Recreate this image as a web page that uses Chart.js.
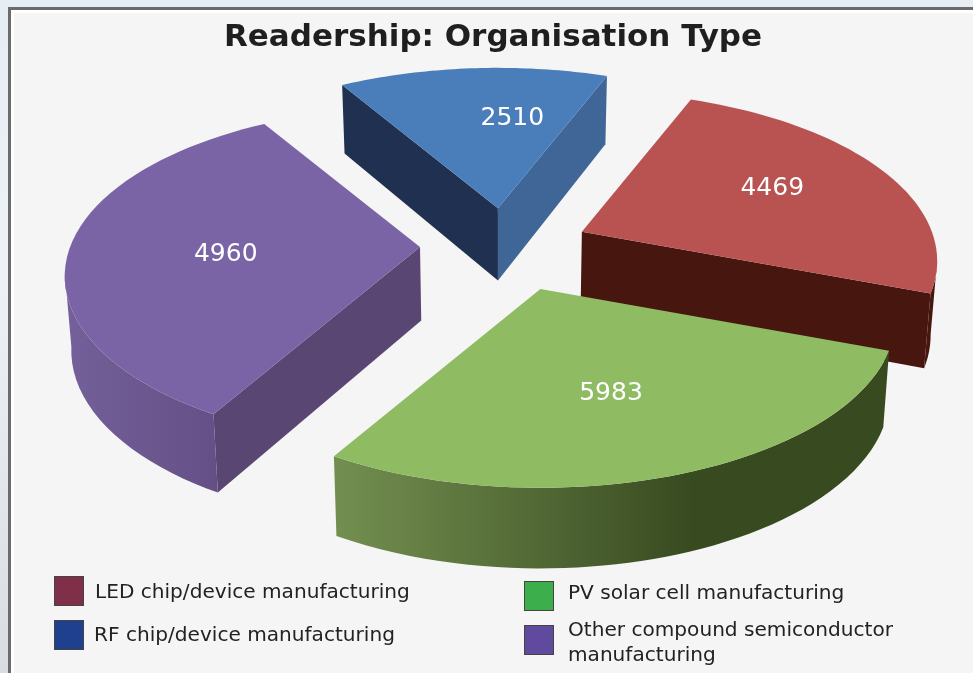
<!DOCTYPE html>
<html>
<head>
<meta charset="utf-8">
<title>Readership: Organisation Type</title>
<script src="https://cdn.jsdelivr.net/npm/chart.js@4"></script>
<style>
  html, body { margin: 0; padding: 0; width: 973px; height: 673px; overflow: hidden; }
  body { background: linear-gradient(180deg, #e6edf3 0%, #eef2f6 40%, #d9dde2 100%); position: relative; font-family: "DejaVu Sans", sans-serif; }
  #frame { position: absolute; left: 8px; top: 7px; width: 965px; height: 666px; box-sizing: border-box;
           border-left: 3px solid #6b6b6b; border-top: 3px solid #6b6b6b; background: #fff; }
  #inner { position: absolute; left: 14px; top: 13px; width: 959px; height: 660px; background: #f5f5f5; }
  #myChart { position: absolute; left: 0; top: 0; }
  .sw { position: absolute; width: 30px; height: 30px; box-sizing: border-box; border: 1px solid #444; }
  .lb { position: absolute; font-size: 20.1px; line-height: 25px; color: #222; white-space: nowrap; }
</style>
</head>
<body>
<div id="frame"></div>
<div id="inner"></div>
<canvas id="myChart" width="973" height="673"></canvas>

<div class="sw" style="left:54px;top:576px;background:#7f2f47"></div>
<div class="lb" style="left:95px;top:579px">LED chip/device manufacturing</div>
<div class="sw" style="left:54px;top:620px;background:#1f3f8f"></div>
<div class="lb" style="left:94px;top:622px">RF chip/device manufacturing</div>
<div class="sw" style="left:524px;top:581px;background:#3cae4b"></div>
<div class="lb" style="left:568px;top:580px">PV solar cell manufacturing</div>
<div class="sw" style="left:524px;top:625px;background:#5f4aa0"></div>
<div class="lb" style="left:568px;top:617px">Other compound semiconductor<br>manufacturing</div>

<script>
const categories = ['LED chip/device manufacturing', 'PV solar cell manufacturing', 'Other compound semiconductor manufacturing', 'RF chip/device manufacturing'];
const readers = [4469, 5983, 4960, 2510];

const topColors = ['#b95351', '#8fbb63', '#7b64a6', '#4a7ebb'];
const startWall = ['#47160f', '#3a4b20', '#5a4672', '#1f3050'];
const endWall = ['#47160f', '#3a4b20', '#5a4672', '#3f6696'];
const outerWall = [['#47160f', '#47160f', '#47160f'], ['#738f50', '#384a20', '#384a20'], ['#74609a', '#675289', '#5f4b7f'], ['#1f3050', '#3f6696', '#3f6696']];
const drawOrder = [3, 0, 2, 1];

// fake 3d view
const shiftX = 10;
const shiftY = 1;
const flatten = 0.47;
const offsetFlatten = 0.5;
const persp = 0.172;
const tiltAmp = 21 * Math.PI / 180;
const tiltCentre = 141 * Math.PI / 180;
const depthBase = 66;
const depthSlope = 0.03;
const bottomShrink = 0.985;
// small per-slice corrections, px
const sliceNudge = [[3, 2], [12, 3], [0, 0], [1, 3]];
const labelNudge = [[12, -6], [2, 4], [9, 6], [28, -3]];

const warp = (a) => a - tiltAmp * Math.pow((1 + Math.cos(a - tiltCentre)) / 2, 3);

function shape(a, r, R) {
    const t = warp(a);
    const u = r * Math.cos(t);
    const v = r * Math.sin(t);
    const f = 1 / (1 - persp * v);
    return [R * u * f, R * flatten * v * f];
}

function sliceGeom(arc, i) {
    const mid = warp((arc.startAngle + arc.endAngle) / 2);
    const off = arc.options.offset;
    const apex = [
        arc.x + shiftX + off * Math.cos(mid) + sliceNudge[i][0],
        arc.y + shiftY + off * offsetFlatten * Math.sin(mid) + sliceNudge[i][1]
    ];
    const rim = [];
    const steps = 48;
    for (let k = 0; k <= steps; k++) {
        const a = arc.startAngle + (arc.endAngle - arc.startAngle) * k / steps;
        const p = shape(a, 1, arc.outerRadius);
        rim.push([apex[0] + p[0], apex[1] + p[1]]);
    }
    return { apex, rim };
}

// wall hanging under a run of top-face points
function wall(c, cx, pts, fill) {
    const down = (o) => [cx + (o[0] - cx) * bottomShrink, o[1] + depthBase + depthSlope * o[1]];
    c.beginPath();
    pts.forEach((p, i) => (i ? c.lineTo(p[0], p[1]) : c.moveTo(p[0], p[1])));
    pts.slice().reverse().forEach((p) => {
        const b = down(p);
        c.lineTo(b[0], b[1]);
    });
    c.closePath();
    c.fillStyle = fill;
    c.fill();
}

const pie3d = {
    id: 'pie3d',
    beforeDatasetsDraw(chart) {
        const c = chart.ctx;
        const arcs = chart.getDatasetMeta(0).data;
        drawOrder.forEach((i) => {
            const arc = arcs[i];
            const g = sliceGeom(arc, i);
            const cx = arc.x + shiftX;
            const xs = g.rim.map((p) => p[0]);
            const grad = c.createLinearGradient(Math.min(...xs), 0, Math.max(...xs), 0);
            grad.addColorStop(0, outerWall[i][0]);
            grad.addColorStop(0.65, outerWall[i][1]);
            grad.addColorStop(1, outerWall[i][2]);
            // only the walls that face the viewer
            const first = g.rim[0], last = g.rim[g.rim.length - 1];
            if (first[0] < g.apex[0]) wall(c, cx, [g.apex, first], startWall[i]);
            if (g.apex[0] < last[0]) wall(c, cx, [last, g.apex], endWall[i]);
            const run = g.rim.filter((p, k) => (k + 1 < g.rim.length && g.rim[k + 1][0] < p[0]) || (k > 0 && p[0] < g.rim[k - 1][0]));
            if (run.length > 1) wall(c, cx, run, grad);
            c.beginPath();
            c.moveTo(g.apex[0], g.apex[1]);
            g.rim.forEach((p) => c.lineTo(p[0], p[1]));
            c.closePath();
            c.fillStyle = topColors[i];
            c.fill();
        });
        // value labels
        c.font = '25px "DejaVu Sans"';
        c.fillStyle = '#ffffff';
        c.textAlign = 'center';
        c.textBaseline = 'middle';
        arcs.forEach((arc, i) => {
            const g = sliceGeom(arc, i);
            const p = shape((arc.startAngle + arc.endAngle) / 2, 0.58, arc.outerRadius);
            c.fillText(String(readers[i]), g.apex[0] + p[0] + labelNudge[i][0], g.apex[1] + p[1] + labelNudge[i][1]);
        });
        return false;
    }
};

const ctx = document.getElementById('myChart');
new Chart(ctx, {
    type: 'pie',
    data: {
        labels: categories,
        datasets: [{
            data: readers,
            backgroundColor: topColors,
            borderWidth: 0,
            offset: 83
        }]
    },
    options: {
        responsive: false,
        animation: false,
        rotation: 21.2,
        radius: 350,
        layout: { padding: { left: 13, right: 0, top: 0, bottom: 241 } },
        plugins: {
            legend: { display: false },
            tooltip: { enabled: false },
            title: {
                display: true,
                text: 'Readership: Organisation Type',
                color: '#1f1f1f',
                font: { family: '"DejaVu Sans"', size: 31, weight: 'bold' },
                padding: { top: 19, bottom: 3 }
            }
        }
    },
    plugins: [pie3d]
});
</script>
</body>
</html>
